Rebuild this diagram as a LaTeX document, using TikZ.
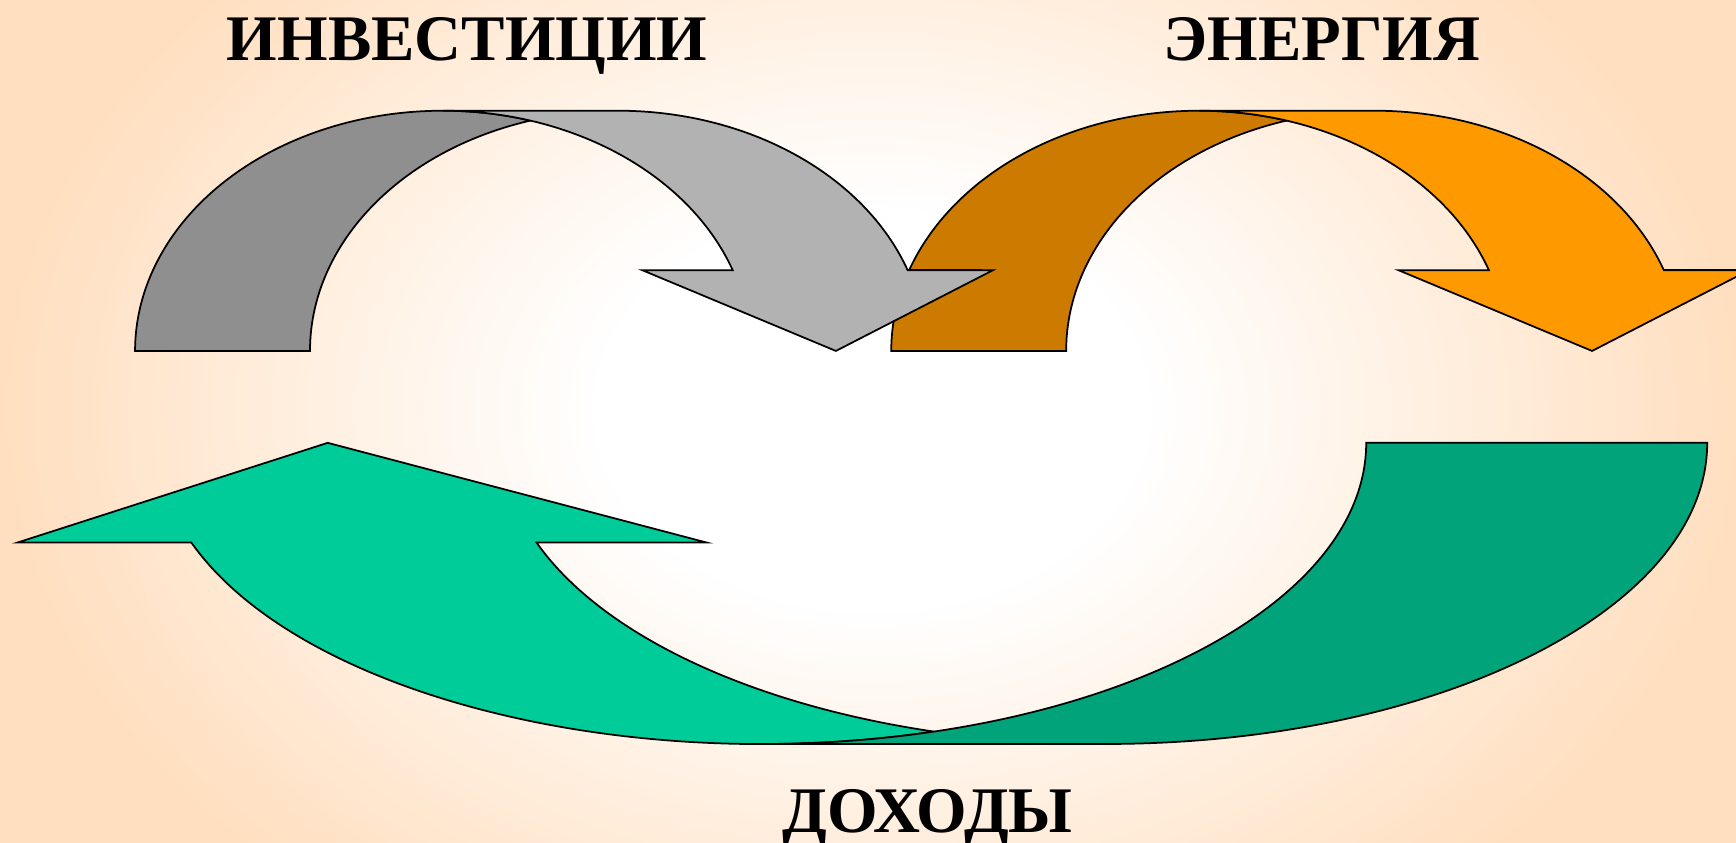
\documentclass[tikz,border=0pt]{standalone}
\usepackage{fontspec}
\setmainfont{Liberation Serif}
\definecolor{peach}{HTML}{FFDFC0}
\definecolor{graydark}{HTML}{8F8F8F}
\definecolor{graylight}{HTML}{B2B2B2}
\definecolor{orangedark}{HTML}{CC7A00}
\definecolor{orangelight}{HTML}{FF9900}
\definecolor{greenlight}{HTML}{00CC99}
\definecolor{greendark}{HTML}{00A37A}
\tikzset{
  band/.style={draw=black, line width=0.45pt, line join=miter},
  label/.style={inner sep=0pt, anchor=base, font=\bfseries\fontsize{16.7pt}{20pt}\selectfont},
  toparrow/.pic={
    % back piece
    \path[band, fill=\darkcol] (122,444)
      arc[start angle=180, end angle=73.49, x radius=278, y radius=217]
      arc[start angle=106.51, end angle=180, x radius=278, y radius=217] -- cycle;
    % front piece with head
    \path[band, fill=\lightcol] (400,661) -- (558,661)
      arc[start angle=90, end angle=19.66, x radius=278, y radius=217]
      -- (897,517) -- (755,444) -- (580,517) -- (661.8,517)
      arc[start angle=19.66, end angle=90, x radius=278, y radius=217] -- cycle;
  }
}
\begin{document}
\begin{tikzpicture}[x=0.01cm, y=0.01cm]
\useasboundingbox (0,0) rectangle (1568,761);
\clip (0,0) rectangle (1568,761);
% background: elliptical gradient, peach at the edges, white in the middle
\fill[peach] (0,0) rectangle (1568,761);
\foreach \i in {0,...,50}{
  \pgfmathsetmacro\sc{1-\i*0.68/50}
  \pgfmathsetmacro\pc{100-\i*2}
  \fill[peach!\pc!white] (788,391) ellipse[x radius={790*\sc}, y radius={575*\sc}];
}

% orange arrow (behind the gray arrowhead)
\def\darkcol{orangedark}\def\lightcol{orangelight}
\pic at (683,0) {toparrow};
% gray arrow
\def\darkcol{graydark}\def\lightcol{graylight}
\pic at (0,0) {toparrow};

% green arrow: front (light) piece
\path[band, fill=greenlight] (843.3,100.2)
  arc[start angle=286.52, end angle=199.32, x radius=546, y radius=272]
  -- (16,271) -- (296,361) -- (638,271) -- (484.6,271)
  arc[start angle=199.32, end angle=253.48, x radius=544, y radius=272] -- cycle;
% green arrow: back (dark) piece
\path[band, fill=greendark] (688,89) -- (998,89)
  arc[start angle=270, end angle=360, x radius=544, y radius=272]
  -- (1234,361)
  arc[start angle=0, end angle=-90, x radius=546, y radius=272] -- cycle;

\node[label] (invest) at (422,706) {ИНВЕСТИЦИИ};
\node[label] (energy) at (1194,706) {ЭНЕРГИЯ};
\node[label] (income) at (838,9.5) {ДОХОДЫ};
\end{tikzpicture}
\end{document}
